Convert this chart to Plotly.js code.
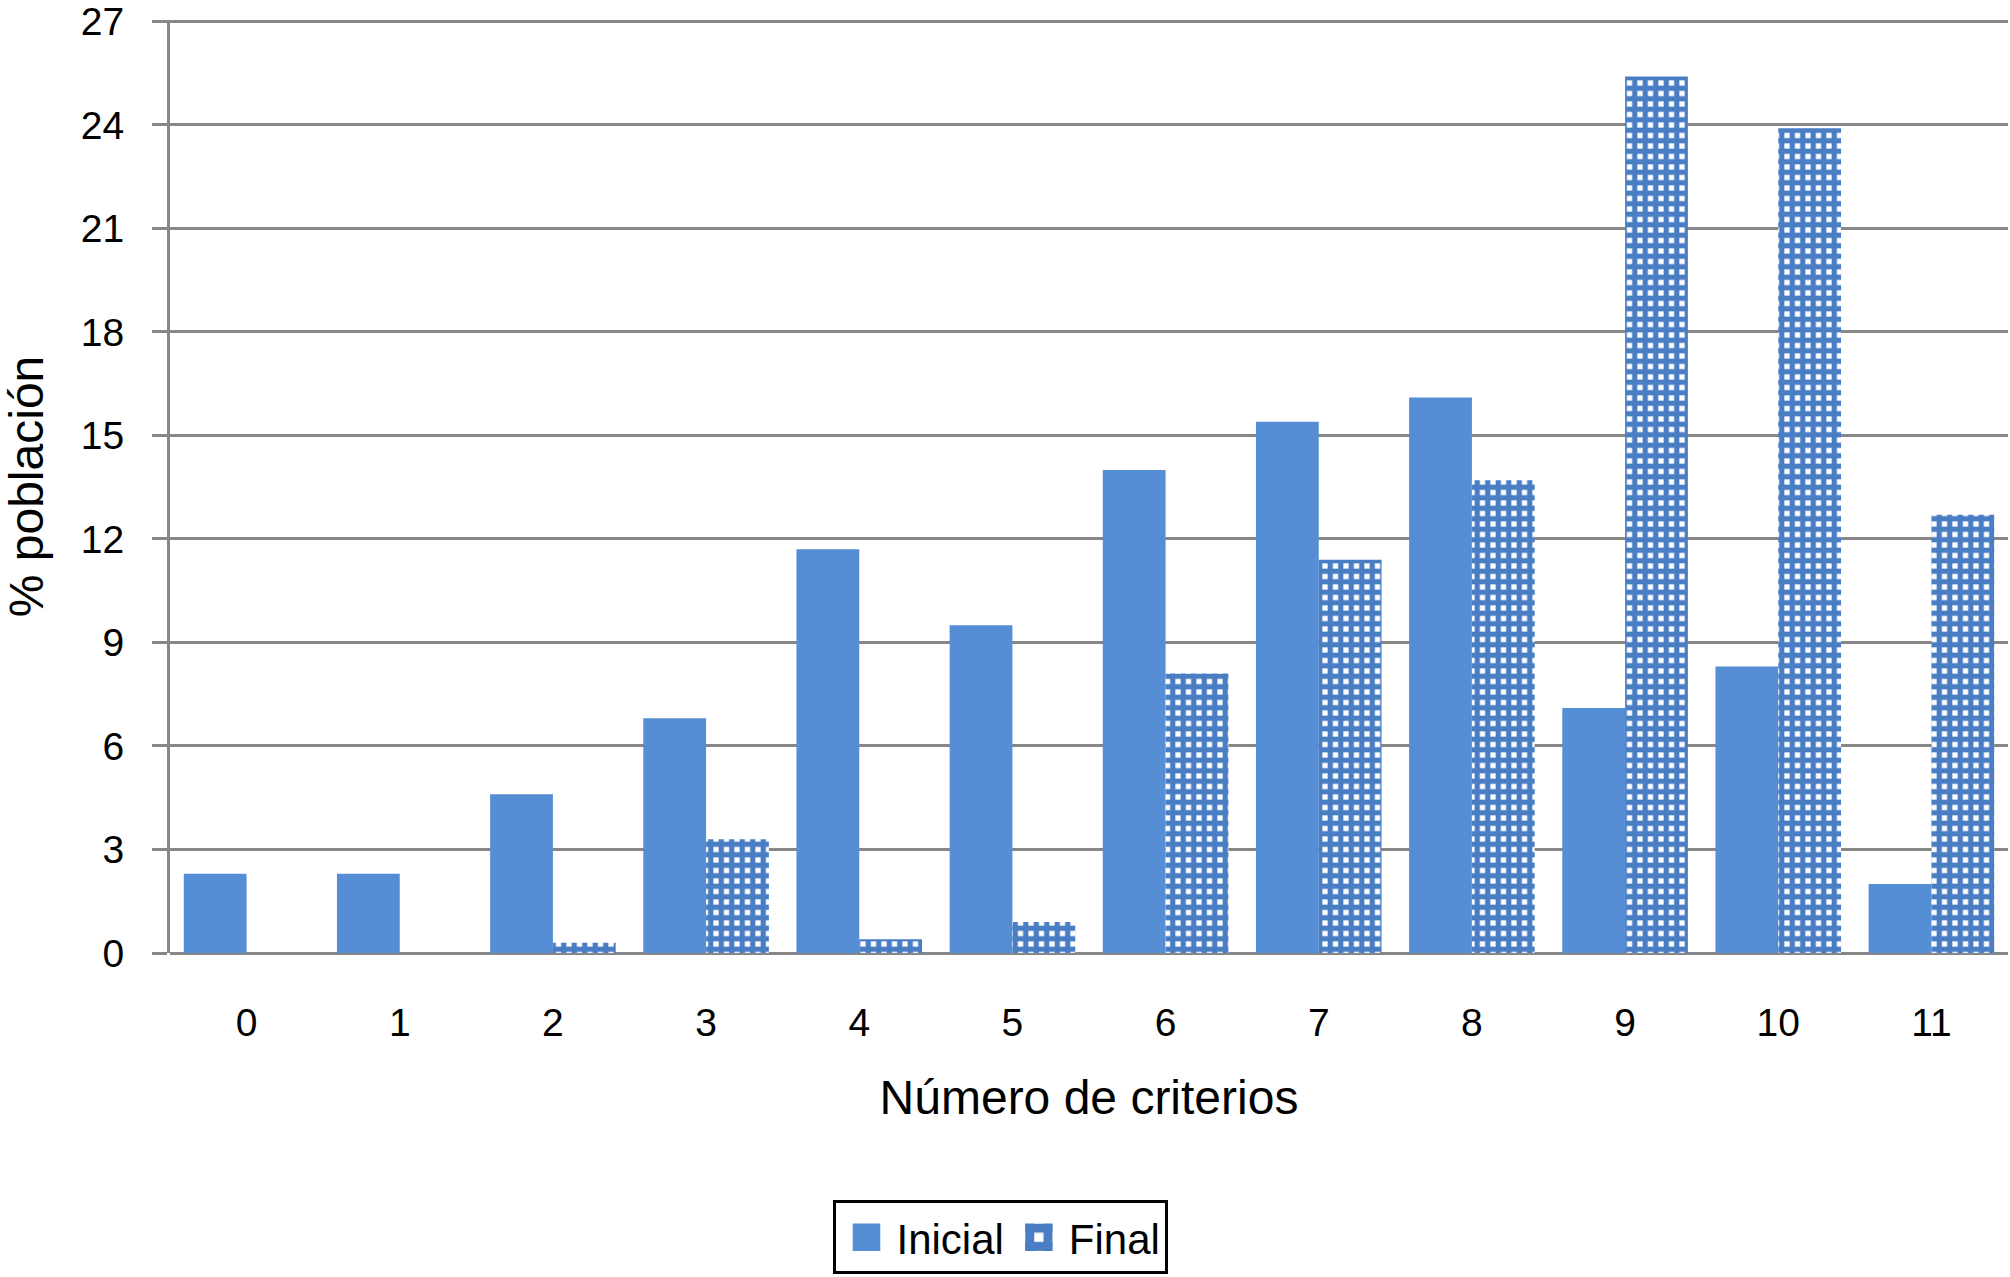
<!DOCTYPE html>
<html>
<head>
<meta charset="utf-8">
<script src="https://cdn.plot.ly/plotly-3.0.1.min.js"></script>
<style>html,body{margin:0;padding:0;background:#fff;}#chart{width:2010px;height:1277px;}</style>
</head>
<body>
<div id="chart"></div>
<script>
const categories = ["0","1","2","3","4","5","6","7","8","9","10","11"];
const inicial = [2.3, 2.3, 4.6, 6.8, 11.7, 9.5, 14.0, 15.4, 16.1, 7.1, 8.3, 2.0];
const final_ = [0, 0, 0.3, 3.3, 0.4, 0.9, 8.1, 11.4, 13.7, 25.4, 23.9, 12.7];
const yTicks = [0, 3, 6, 9, 12, 15, 18, 21, 24, 27];

const fontFam = "Liberation Sans, Arial, sans-serif";
const data = [
  {type: "bar", name: "Inicial", x: categories, y: inicial,
   marker: {color: "#558ED5"}},
  {type: "bar", name: "Final", x: categories, y: final_,
   marker: {color: "#4A7EC4",
            pattern: {shape: "+", fillmode: "replace", fgcolor: "#4A7EC4", bgcolor: "#ffffff", size: 10.5, solidity: 0.75}}}
];
const layout = {
  width: 2010, height: 1277,
  margin: {l: 170, r: 2, t: 20, b: 324},
  paper_bgcolor: "#fff", plot_bgcolor: "#fff",
  font: {family: fontFam, size: 39, color: "#000"},
  barmode: "group", bargap: 0.18, bargroupgap: 0,
  xaxis: {
    type: "category", showgrid: false, zeroline: false, showline: false,
    ticks: "", ticklabelstandoff: 43, tickfont: {size: 39},
    title: {text: "Número de criterios", font: {size: 48}, standoff: 37}
  },
  yaxis: {
    range: [0, 27.04], tickvals: yTicks, ticktext: yTicks.map(String),
    showgrid: true, gridcolor: "#878787", gridwidth: 3,
    zeroline: true, zerolinecolor: "#878787", zerolinewidth: 3,
    showline: true, linecolor: "#878787", linewidth: 3,
    ticks: "outside", ticklen: 15, tickwidth: 3, tickcolor: "#878787",
    ticklabelstandoff: 20, tickfont: {size: 39}, ticklabeloverflow: "allow",
    title: {text: "% población", font: {size: 48}, standoff: 26}
  },
  showlegend: true,
  legend: {
    orientation: "h", xref: "container", yref: "container",
    x: 0.498, xanchor: "center", y: 0.002, yanchor: "bottom",
    bordercolor: "#000", borderwidth: 3, bgcolor: "#fff",
    font: {size: 42}, itemwidth: 50
  }
};
Plotly.newPlot("chart", data, layout, {displayModeBar: false, staticPlot: true}).then(function (gd) {
  gd.querySelectorAll(".legend .legendpoints path").forEach(function (p) {
    const t = p.getAttribute("transform") || "";
    p.setAttribute("transform", t + " scale(2.3)");
  });
});
</script>
</body>
</html>
